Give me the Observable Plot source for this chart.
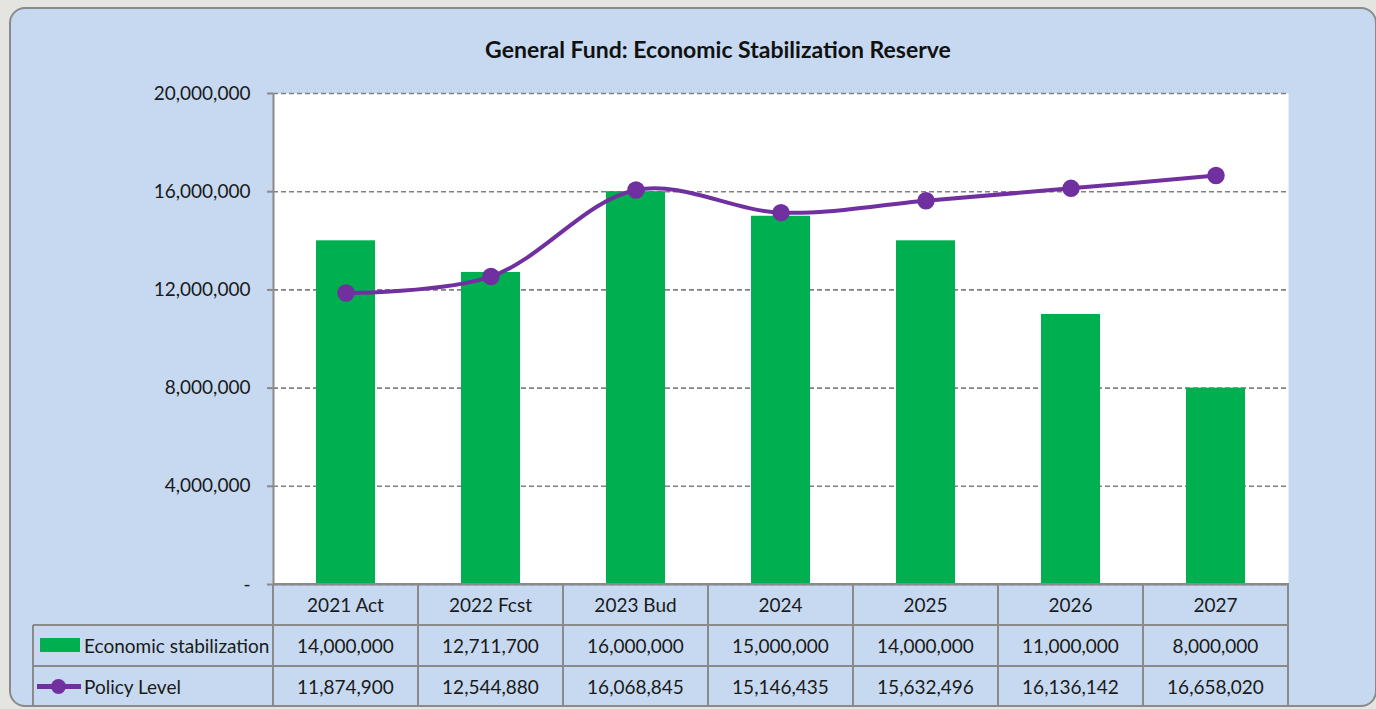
<!DOCTYPE html>
<html>
<head>
<meta charset="utf-8">
<script src="https://cdn.jsdelivr.net/npm/d3@7"></script>
<script src="https://cdn.jsdelivr.net/npm/@observablehq/plot@0.6"></script>
<style>
  html, body { margin: 0; padding: 0; }
  body { width: 1376px; height: 709px; background: #e4e4e0; position: relative; overflow: hidden;
         font-family: Lato, Roboto, sans-serif; color: #1a1a1a; }
  #panel { position: absolute; left: 9px; top: 7px; width: 1368px; height: 700px;
           background: #c6d9f0; border: 2px solid #8a8a8a; border-radius: 16px; box-sizing: border-box; }
  #title { position: absolute; left: 418px; width: 600px; top: 35px; text-align: center;
           font-size: 23px; font-weight: bold; color: #111; }
  #chart { position: absolute; left: 0; top: 0; }
  .cell { position: absolute; box-sizing: border-box; display: flex; align-items: center; justify-content: center;
          font-size: 19px; color: #1a1a1a; }
  .hline { position: absolute; height: 2px; background: #8a8a8a; }
  .vline { position: absolute; width: 2px; background: #8a8a8a; }
</style>
</head>
<body>
<div id="panel"></div>
<div id="title">General Fund: Economic Stabilization Reserve</div>
<div id="chart"></div>
<div id="table"></div>
<script>
const categories = ["2021 Act", "2022 Fcst", "2023 Bud", "2024", "2025", "2026", "2027"];
const reserveValues = [14000000, 12711700, 16000000, 15000000, 14000000, 11000000, 8000000];
const policyValues = [11874900, 12544880, 16068845, 15146435, 15632496, 16136142, 16658020];
const seriesNames = ["Economic stabilization", "Policy Level"];
const yTicks = [0, 4000000, 8000000, 12000000, 16000000, 20000000];

const bars = categories.map((c, i) => ({cat: c, value: reserveValues[i]}));
const policy = categories.map((c, i) => ({cat: c, value: policyValues[i]}));

const W = 1376, H = 709;
const mL = 273, mR = 88, mT = 93, mB = 125;
const fmt = d3.format(",");

const plot = Plot.plot({
  width: W, height: H,
  marginLeft: mL, marginRight: mR, marginTop: mT, marginBottom: mB,
  style: {background: "transparent", fontFamily: "Lato, Roboto, sans-serif"},
  x: {domain: categories, paddingInner: 0.59, paddingOuter: 0.295, axis: null},
  y: {domain: [0, 20000000], axis: null},
  marks: [
    Plot.frame({fill: "white", stroke: null}),
    Plot.gridY(yTicks, {stroke: "#808080", strokeOpacity: 1, strokeWidth: 1.6, strokeDasharray: "5,3"}),
    Plot.barY(bars, {x: "cat", y: "value", fill: "#00b050"}),
    Plot.ruleY([0], {stroke: "#8a8a8a", strokeWidth: 2}),
    Plot.ruleX([categories[0]], {dx: -72.5, stroke: "#8a8a8a", strokeWidth: 2}),
    Plot.axisY(yTicks, {label: null, tickSize: 6, tickPadding: 17, stroke: "#8a8a8a", strokeWidth: 2,
      tickFormat: d => d === 0 ? "-" : fmt(d), fontSize: 19, fill: "#1a1a1a"}),
    Plot.line(policy, {x: "cat", y: "value", stroke: "#7030a0", strokeWidth: 4, curve: "catmull-rom"}),
    Plot.dot(policy, {x: "cat", y: "value", r: 8, fill: "#7030a0", stroke: "#7030a0"})
  ]
});
document.getElementById("chart").appendChild(plot);

// Data table below the plot
const table = document.getElementById("table");
const x0 = mL, step = (W - mL - mR) / categories.length;
const rowY = [584, 625, 666, 706];
const leftX = 33;
function add(cls, style, text) {
  const el = document.createElement("div");
  el.className = cls;
  Object.assign(el.style, style);
  if (text != null) el.textContent = text;
  table.appendChild(el);
  return el;
}
categories.forEach((c, i) => add("cell", {left: (x0 + i * step) + "px", top: rowY[0] + "px", width: step + "px", height: (rowY[1] - rowY[0]) + "px"}, c));
reserveValues.forEach((v, i) => add("cell", {left: (x0 + i * step) + "px", top: rowY[1] + "px", width: step + "px", height: (rowY[2] - rowY[1]) + "px"}, fmt(v)));
policyValues.forEach((v, i) => add("cell", {left: (x0 + i * step) + "px", top: rowY[2] + "px", width: step + "px", height: (rowY[3] - rowY[2]) + "px"}, fmt(v)));
add("hline", {left: x0 + "px", top: (rowY[0] - 1) + "px", width: (W - mR - x0 + 1) + "px"});
add("hline", {left: leftX + "px", top: (rowY[1] - 1) + "px", width: (W - mR - leftX + 1) + "px"});
add("hline", {left: leftX + "px", top: (rowY[2] - 1) + "px", width: (W - mR - leftX + 1) + "px"});
add("hline", {left: leftX + "px", top: (rowY[3] - 1) + "px", width: (W - mR - leftX + 1) + "px"});
for (let i = 0; i <= categories.length; i++) {
  add("vline", {left: (x0 + i * step - 1) + "px", top: rowY[0] + "px", height: (rowY[3] - rowY[0]) + "px"});
}
add("vline", {left: (leftX - 1) + "px", top: rowY[1] + "px", height: (rowY[3] - rowY[1]) + "px"});
add("cell", {left: "84px", top: rowY[1] + "px", height: (rowY[2] - rowY[1]) + "px", justifyContent: "flex-start"}, seriesNames[0]);
add("cell", {left: "84px", top: rowY[2] + "px", height: (rowY[3] - rowY[2]) + "px", justifyContent: "flex-start"}, seriesNames[1]);
add("", {position: "absolute", left: "40px", top: "638px", width: "40px", height: "14px", background: "#00b050"});
add("", {position: "absolute", left: "37px", top: "684px", width: "44px", height: "5px", background: "#7030a0"});
add("", {position: "absolute", left: "51px", top: "679px", width: "15px", height: "15px", borderRadius: "50%", background: "#7030a0"});
</script>
</body>
</html>
